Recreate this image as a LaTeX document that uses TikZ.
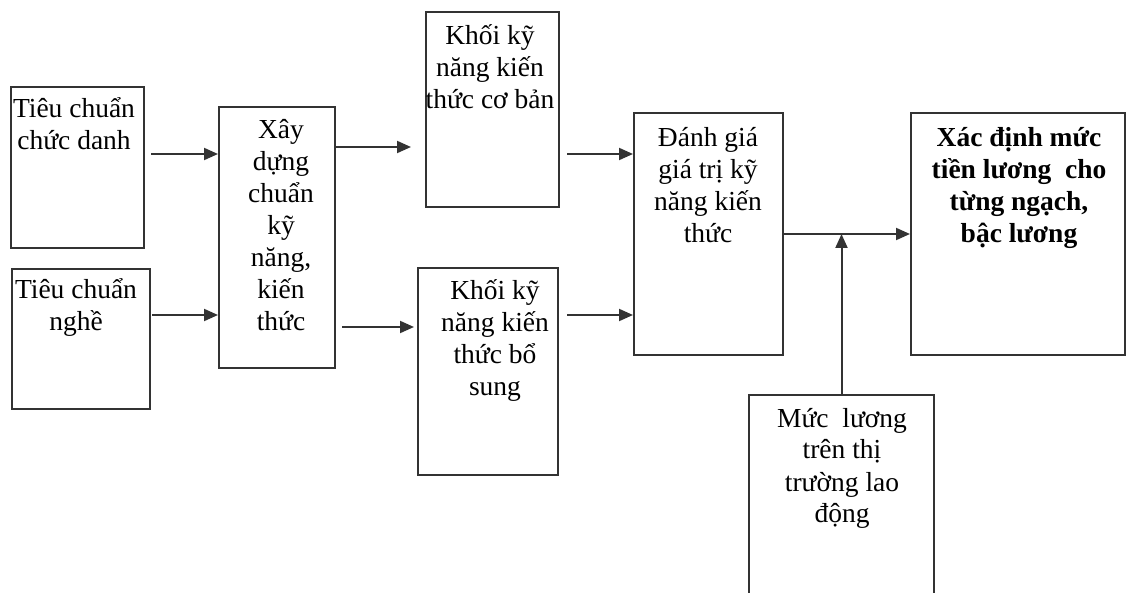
\documentclass[tikz,border=0pt]{standalone}
\usepackage{fontspec}
\setmainfont{Liberation Serif}
\usetikzlibrary{arrows.meta}
\newcommand{\ml}[1]{\begin{tabular}[t]{@{}c@{}}#1\end{tabular}}
\tikzset{
  box/.style={draw=black!80, line width=2pt, rectangle, inner sep=0pt},
  txt/.style={anchor=base, inner sep=0pt, font=\fontsize{27.5}{32}\selectfont},
  arr/.style={draw=black!80, line width=2pt, -{Triangle[length=14pt,width=12pt]}},
}
\begin{document}
\begin{tikzpicture}[x=1pt,y=-1pt]
\useasboundingbox (0,0) rectangle (1127,593);
\clip (0,0) rectangle (1127,593);
% boxes
\node[box, minimum width=133pt, minimum height=161pt] (b1) at (77.5,167.5) {};
\node[box, minimum width=138pt, minimum height=140pt] (b2) at (81,339) {};
\node[box, minimum width=116pt, minimum height=261pt] (b3) at (277,237.5) {};
\node[box, minimum width=133pt, minimum height=195pt] (b4) at (492.5,109.5) {};
\node[box, minimum width=140pt, minimum height=207pt] (b5) at (488,371.5) {};
\node[box, minimum width=149pt, minimum height=242pt] (b6) at (708.5,234) {};
\node[box, minimum width=214pt, minimum height=242pt] (b7) at (1018,234) {};
\node[box, minimum width=185pt, minimum height=225pt] (b8) at (841.5,507.5) {};
% texts
\node[txt] (t1) at (74,118) {\ml{Tiêu chuẩn\\chức danh}};
\node[txt] (t2) at (76,299) {\ml{Tiêu chuẩn\\nghề}};
\node[txt] (t3) at (281,139) {\ml{Xây\\dựng\\chuẩn\\kỹ\\năng,\\kiến\\thức}};
\node[txt] (t4) at (490,45) {\ml{Khối kỹ\\năng kiến\\thức cơ bản}};
\node[txt] (t5) at (495,300) {\ml{Khối kỹ\\năng kiến\\thức bổ\\sung}};
\node[txt] (t6) at (708,147) {\ml{Đánh giá\\giá trị kỹ\\năng kiến\\thức}};
\node[txt, font=\fontsize{27.5}{32}\selectfont\bfseries] (t7) at (1019,147) {\ml{Xác định mức\\tiền lương\ \ cho\\từng ngạch,\\bậc lương}};
\node[txt] (t8) at (842,427) {\ml{Mức\ \ lương\\trên thị\\trường lao\\động}};
% connectors
\draw[arr] ([xshift=6pt]b1.east |- 0,154) -- (b3.west |- 0,154);
\draw[arr] ([xshift=1pt]b2.east |- 0,315) -- (b3.west |- 0,315);
\draw[arr] (b3.east |- 0,147) -- ([xshift=-14pt]b4.west |- 0,147);
\draw[arr] ([xshift=6pt]b3.east |- 0,327) -- ([xshift=-3pt]b5.west |- 0,327);
\draw[arr] ([xshift=7pt]b4.east |- 0,154) -- (b6.west |- 0,154);
\draw[arr] ([xshift=8pt]b5.east |- 0,315) -- (b6.west |- 0,315);
\coordinate (j) at (b8.north |- b6.east);
\draw[arr] (b6.east) -- (b7.west);
\draw[arr] (b8.north) -- (j);
\end{tikzpicture}
\end{document}
